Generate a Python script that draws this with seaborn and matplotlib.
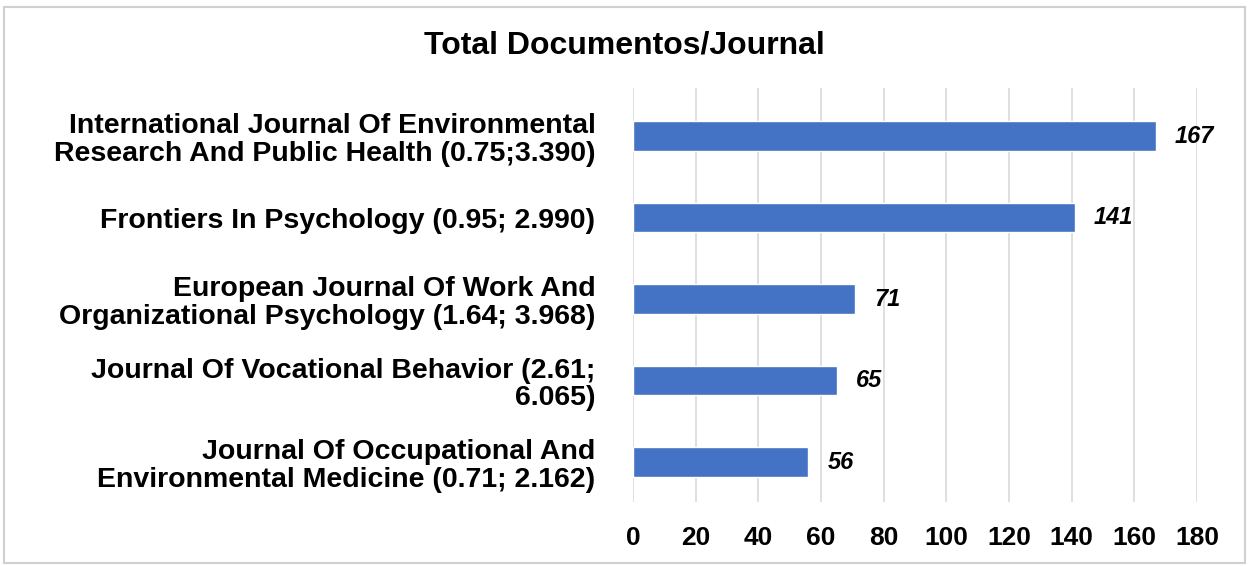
import matplotlib
matplotlib.use("Agg")
import matplotlib.pyplot as plt
import seaborn as sns
import pandas as pd
from matplotlib.patches import Rectangle

# data
journals = [
    "International Journal Of Environmental\nResearch And Public Health (0.75;3.390)",
    "Frontiers In Psychology (0.95; 2.990)",
    "European Journal Of Work And\nOrganizational Psychology (1.64; 3.968)",
    "Journal Of Vocational Behavior (2.61;\n6.065)",
    "Journal Of Occupational And\nEnvironmental Medicine (0.71; 2.162)",
]
documents = [167, 141, 71, 65, 56]
x_ticks = [0, 20, 40, 60, 80, 100, 120, 140, 160, 180]

df = pd.DataFrame({"journal": journals, "docs": documents})

sns.set_style("white")
plt.rcParams["font.family"] = ["Liberation Sans", "DejaVu Sans"]
plt.rcParams["text.color"] = "black"
plt.rcParams["xtick.color"] = "black"
plt.rcParams["ytick.color"] = "black"

fig = plt.figure(figsize=(12.49, 5.66), dpi=100)
ax = fig.add_axes([633 / 1249, 1 - 502 / 566, (1197 - 633) / 1249, (502 - 88) / 566])

sns.barplot(data=df, x="docs", y="journal", color="#4472C4", saturation=1,
            width=0.36, ax=ax, orient="h")

ax.set_xlim(0, 180)
ax.set_ylim(4.49, -0.59)
ax.set_xticks(x_ticks)
ax.grid(axis="x", color="#d9d9d9", linewidth=1.2)
ax.set_axisbelow(True)
for s in ax.spines.values():
    s.set_visible(False)
ax.tick_params(axis="x", length=0, pad=17, labelsize=19)
ax.tick_params(axis="y", length=0, pad=27, labelsize=20.5)
for lbl in ax.get_xticklabels() + ax.get_yticklabels():
    lbl.set_fontweight("bold")
for lbl in ax.get_yticklabels():
    lbl.set_linespacing(1.08)
ax.set_xlabel("")
ax.set_ylabel("")

for i, v in enumerate(documents):
    ax.text(v + 6, i, str(v), va="center", ha="left", fontsize=17,
            fontweight="bold", fontstyle="italic")

fig.text(0.5, 1 - 46 / 566, "Total Documentos/Journal", ha="center", va="center",
         fontsize=23, fontweight="bold")

fig.patches.append(Rectangle((4 / 1249, 0.005), 1 - 8 / 1249, 1 - 7 / 566 - 0.005,
                             transform=fig.transFigure, fill=False,
                             edgecolor="#d0d0d0", linewidth=1.5))

fig.savefig("out.png", dpi=100)
